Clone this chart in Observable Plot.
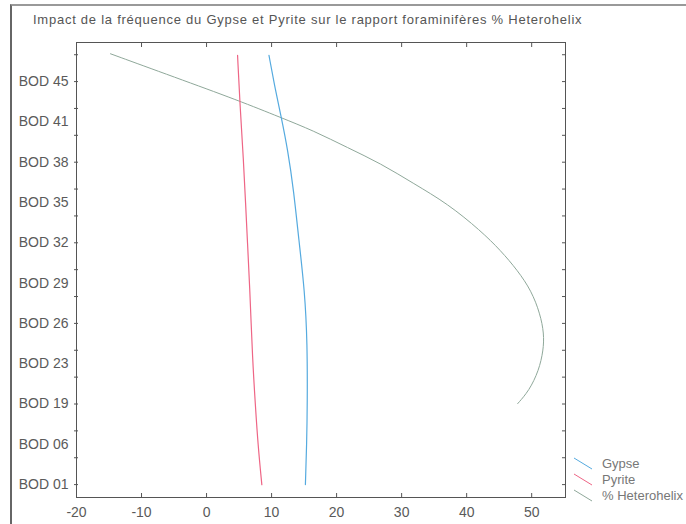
<!DOCTYPE html>
<html><head><meta charset="utf-8">
<script src="https://cdn.jsdelivr.net/npm/d3@7"></script>
<script src="https://cdn.jsdelivr.net/npm/@observablehq/plot@0.6"></script>
<style>
body{margin:0;background:#fff;font-family:"Liberation Sans",Arial,sans-serif;}
#wrap{position:relative;width:686px;height:524px;overflow:hidden;background:#fff;}
#border{position:absolute;left:10px;top:4px;width:700px;height:560px;border-left:2px solid #666;border-top:2px solid #999;}
#title{position:absolute;left:33px;top:12px;font-size:13px;color:#555;white-space:nowrap;letter-spacing:0.75px;}
#chart{position:absolute;left:0;top:30px;}
#legend{position:absolute;left:573px;top:455px;font-size:13px;color:#777;}
#legend div{display:flex;align-items:center;height:16px;}
#legend svg{margin-right:9px;}
</style></head><body>
<div id="wrap">
  <div id="border"></div>
  <div id="title">Impact de la fréquence du Gypse et Pyrite sur le rapport foraminifères % Heterohelix</div>
  <div id="chart"></div>
  <div id="legend"></div>
</div>
<script>
const categories = ["BOD 01","BOD 06","BOD 19","BOD 23","BOD 26","BOD 29","BOD 32","BOD 35","BOD 38","BOD 41","BOD 45"];
const xTicks = [-20,-10,0,10,20,30,40,50];
const seriesNames = ["Gypse","Pyrite","% Heterohelix"];
const seriesColors = ["#55aadf","#ee6585","#8fa89a"];

// depth position (index along the category axis) and value for each series
const gypseDepth = [0, 1, 2, 3.5, 4.8, 6.06, 7.3, 8.29, 9.11, 9.78, 10.65];
const gypseValue = [15.2, 15.4, 15.5, 15.5, 15.1, 14.2, 13.4, 12.5, 11.5, 10.6, 9.6];

const pyriteDepth = [0, 1, 2, 3, 5.06, 5.98, 6.99, 8.0, 9.53, 10.65];
const pyriteValue = [8.5, 7.9, 7.5, 7.1, 6.6, 6.3, 6.0, 5.7, 5.1, 4.77];

const heteroDepth = [2.01, 2.33, 2.83, 3.33, 3.75, 4.24, 4.81, 5.31, 5.81, 6.30, 6.97, 7.47, 7.97, 8.36, 8.78, 9.11, 9.53, 10.11, 10.69];
const heteroValue = [47.85, 49.6, 51.1, 51.8, 51.9, 51.3, 49.95, 47.85, 45.23, 42.15, 37.08, 31.85, 26.77, 21.69, 16.46, 11.38, 4.92, -4.92, -14.77];

const toRows = (ds, vs) => ds.map((d, i) => ({d, v: vs[i]}));
const gypse = toRows(gypseDepth, gypseValue);
const pyrite = toRows(pyriteDepth, pyriteValue);
const hetero = toRows(heteroDepth, heteroValue);

const labelTicks = d3.range(categories.length);
const minorTicks = d3.range(0, 17).map(k => k * 2 / 3);
const noText = () => "";

const chart = Plot.plot({
  width: 600,
  height: 494,
  marginLeft: 76,
  marginRight: 35,
  marginTop: 12,
  marginBottom: 27,
  style: {fontSize: "14px", color: "#5a5a5a", fontFamily: "'Liberation Sans', Arial, sans-serif", background: "transparent"},
  x: {domain: [-20, 55.2]},
  y: {domain: [-0.32, 10.97]},
  marks: [
    Plot.frame({stroke: "#555", strokeWidth: 1}),
    Plot.axisX({anchor: "bottom", ticks: xTicks, tickSize: 0, tickPadding: 10, label: null, tickFormat: d => d < 0 ? "-" + Math.abs(d) : String(d)}),
    Plot.axisX({anchor: "bottom", ticks: xTicks, tickSize: 4, dy: -4, label: null, tickFormat: noText, stroke: "#555"}),
    Plot.axisX({anchor: "top", ticks: xTicks, tickSize: 4, dy: 4, label: null, tickFormat: noText, stroke: "#555"}),
    Plot.axisY({anchor: "left", ticks: labelTicks, tickSize: 0, tickPadding: 8, label: null, tickFormat: i => categories[i]}),
    Plot.axisY({anchor: "left", ticks: minorTicks, tickSize: 4, dx: 2, label: null, tickFormat: noText, stroke: "#555"}),
    Plot.axisY({anchor: "right", ticks: minorTicks, tickSize: 4, dx: -4, label: null, tickFormat: noText, stroke: "#555"}),
    Plot.line(hetero, {x: "v", y: "d", stroke: seriesColors[2], strokeWidth: 1, curve: "basis"}),
    Plot.line(pyrite, {x: "v", y: "d", stroke: seriesColors[1], strokeWidth: 1.2, curve: "basis"}),
    Plot.line(gypse, {x: "v", y: "d", stroke: seriesColors[0], strokeWidth: 1.2, curve: "basis"})
  ]
});
document.getElementById("chart").appendChild(chart);

const legend = document.getElementById("legend");
seriesNames.forEach((name, i) => {
  const row = document.createElement("div");
  row.innerHTML = `<svg width="20" height="13"><line x1="1" y1="1" x2="19" y2="12" stroke="${seriesColors[i]}" stroke-width="1"/></svg><span>${name}</span>`;
  legend.appendChild(row);
});
</script>
</body></html>
